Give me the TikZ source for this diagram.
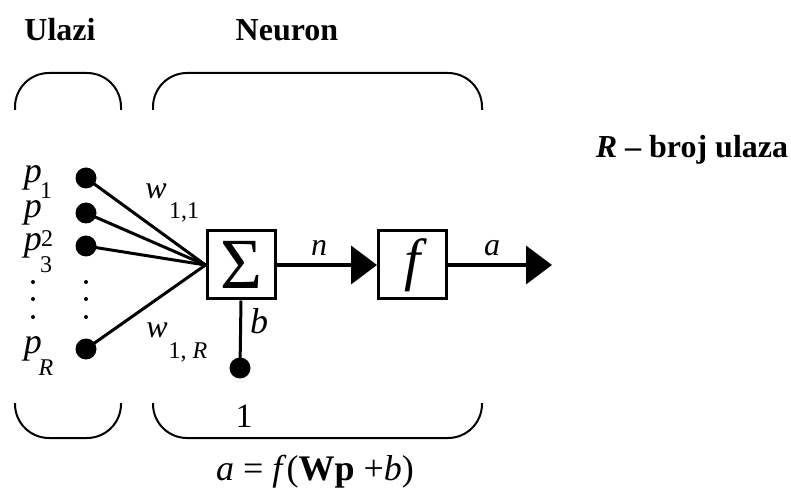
\documentclass[tikz,border=0pt]{standalone}
\usepackage{fontspec}
\setmainfont{Liberation Serif}
\usepackage{tikz}
\usetikzlibrary{arrows.meta, positioning}

\newcommand{\fsz}[1]{\fontsize{#1}{#1}\selectfont}

\begin{document}
\begin{tikzpicture}[
    x=0.5pt, y=-0.5pt,
    brace/.style={line width=1pt, rounded corners=17pt},
    block/.style={rectangle, draw, line width=1.5pt, minimum width=34pt, minimum height=34pt, inner sep=0pt},
    inputdot/.style={circle, fill, inner sep=0pt, minimum size=10.5pt},
    smalldot/.style={circle, fill, inner sep=0pt, minimum size=2pt},
    wire/.style={line width=1.5pt},
    signal/.style={line width=2pt, -{Triangle[length=13pt, width=19pt]}},
    heading/.style={font=\fsz{16}\bfseries},
    var/.style={font=\fsz{18}\itshape, inner sep=0pt},
    idx/.style={font=\fsz{12}, inner sep=0pt}
]
\useasboundingbox (0,0) rectangle (791,491);

% Headings
\node[heading] (ulazi) at (60,30) {Ulazi};
\node[heading] (neuron) at (287,30) {Neuron};
\node[heading] (brojulaza) at (692,150) {\textit{R} – broj ulaza};

% Brackets
\draw[brace] (15,110) -- (15,73) -- (121,73) -- (121,110);
\draw[brace] (153,110) -- (153,73) -- (482,73) -- (482,110);
\draw[brace] (15,403) -- (15,438) -- (121,438) -- (121,403);
\draw[brace] (153,403) -- (153,438) -- (482,438) -- (482,403);

% Blocks
\node[block, font=\fsz{36}] (sum) at (241,265) {Σ};
\node[block, font=\fsz{29}\itshape] (fbox) at (412.5,265) {f};
\coordinate (out) at (552,265);

% Inputs
\node[inputdot] (p1) at (86,178) {};
\node[inputdot] (p2) at (86,213) {};
\node[inputdot] (p3) at (86,246) {};
\node[inputdot] (pR) at (86,349) {};
\node[inputdot] (bias) at (240,368) {};

\foreach \yy in {282,299,317} {
    \node[smalldot] at (33,\yy) {};
    \node[smalldot] at (86,\yy) {};
}

% Input labels
\node[var] (lp1) at (33,178) {p};
\node[idx] at (46,191) {1};
\node[var] (lp2) at (33,213) {p};
\node[idx] at (47,239) {2};
\node[var] (lp3) at (33,246) {p};
\node[idx] at (46,265) {3};
\node[var] (lpR) at (33,349) {p};
\node[idx, font=\fsz{12}\itshape] at (46,368) {R};

% Weights
\node[var, font=\fsz{16}\itshape] (w11) at (156,191) {w};
\node[idx] at (184,212) {1,1};
\node[var, font=\fsz{16}\itshape] (w1R) at (157,330) {w};
\node[idx] at (188,352) {1, \textit{R}};

% Connections
\foreach \src in {p1,p2,p3,pR}
    \draw[wire] (\src.center) -- (sum.west);
\draw[wire] (sum.south) -- (bias.center);
\draw[signal] (sum) -- (fbox);
\draw[signal] (fbox) -- (out);

% Signal labels
\node[var] (lb) at (259,321) {b};
\node[var, font=\fsz{16}\itshape] (ln) at (319,248) {n};
\node[var, font=\fsz{16}\itshape] (la) at (492,248) {a};
\node[font=\fsz{17}, inner sep=0pt] (lone) at (244,416) {1};

% Formula
\node[font=\fsz{18}] (formula) at (315,472) {\textit{a} = \textit{f}(\textbf{Wp} +\textit{b})};

\end{tikzpicture}
\end{document}
